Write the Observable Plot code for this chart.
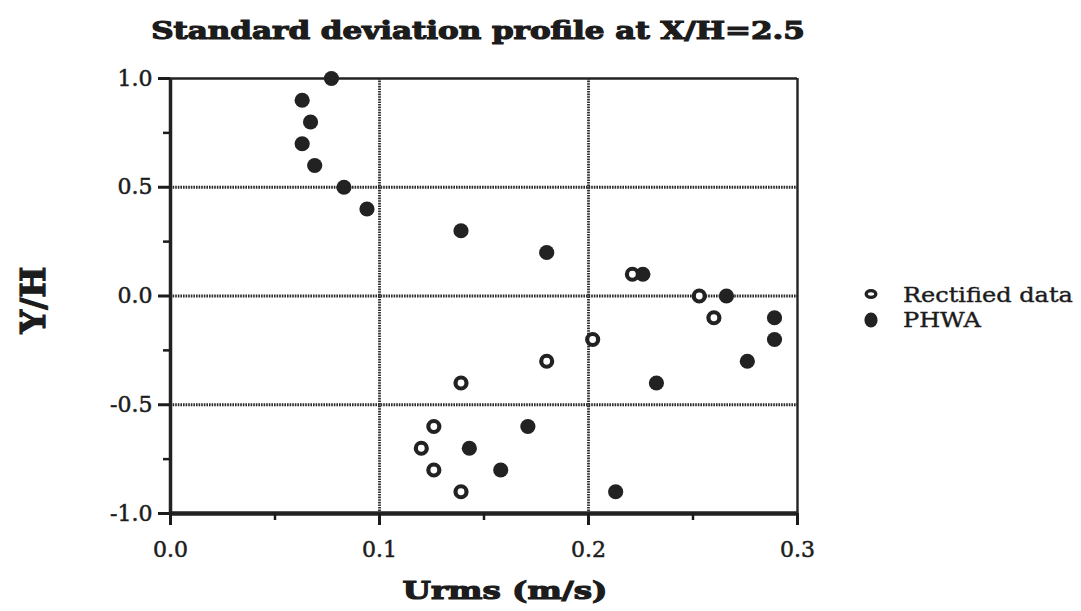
<!DOCTYPE html>
<html>
<head>
<meta charset="utf-8">
<script src="https://cdn.jsdelivr.net/npm/d3@7"></script>
<script src="https://cdn.jsdelivr.net/npm/@observablehq/plot@0.6"></script>
<style>
  body { margin: 0; background: #fff; }
  #wrap { position: relative; width: 1081px; height: 611px; font-family: "DejaVu Serif", serif; color: #1c1c1c; overflow: hidden; }
  #wrap > svg.chart { position: absolute; left: 0; top: 0; }
  #wrap svg [aria-label$="tick label"] text { stroke: #1c1c1c; stroke-width: 0.5px; }
  .bold { position: absolute; white-space: nowrap; font-weight: bold; line-height: 1; -webkit-text-stroke: 1.2px #1c1c1c; }
  .title { top: 19px; left: 478px; font-size: 24px; transform: translateX(-50%) scaleX(1.29); }
  .xlabel { top: 578px; left: 505px; font-size: 25px; transform: translateX(-50%) scaleX(1.3); }
  .ylabel { top: 300px; left: 33px; font-size: 33px; transform: translate(-50%, -50%) rotate(-90deg); }
  .legend-text { position: absolute; left: 903px; white-space: nowrap; font-size: 20px; line-height: 1; transform: scaleX(1.2); transform-origin: left center; -webkit-text-stroke: 0.4px #1c1c1c; }
  #wrap > svg#legend-marks { position: absolute; left: 858px; top: 280px; }
</style>
</head>
<body>
<div id="wrap">
  <div class="bold title">Standard deviation profile at X/H=2.5</div>
  <div class="bold xlabel">Urms (m/s)</div>
  <div class="bold ylabel">Y/H</div>
</div>
<script>
// Vertical position of each measurement, Y/H
const rectifiedYH   = [0.1, 0.0, -0.1, -0.2, -0.3, -0.4, -0.6, -0.7, -0.8, -0.9];
// RMS velocity from the rectified data, m/s
const rectifiedUrms = [0.221, 0.253, 0.260, 0.202, 0.180, 0.139, 0.126, 0.120, 0.126, 0.139];

const phwaYH   = [1.0, 0.9, 0.8, 0.7, 0.6, 0.5, 0.4, 0.3, 0.2, 0.1, 0.0, -0.1, -0.2, -0.3, -0.4, -0.6, -0.7, -0.8, -0.9];
// RMS velocity from the pulsed hot-wire anemometer, m/s
const phwaUrms = [0.077, 0.063, 0.067, 0.063, 0.069, 0.083, 0.094, 0.139, 0.180, 0.226, 0.266, 0.289, 0.289, 0.276, 0.2325, 0.171, 0.143, 0.158, 0.213];

const seriesNames = ["Rectified data", "PHWA"];

const xTicks = [0, 0.1, 0.2, 0.3];
const xMinor = [0.05, 0.15, 0.25];
const yTicks = [-1, -0.5, 0, 0.5, 1];
const yMinor = [-0.75, -0.25, 0.25, 0.75];

const rectified = rectifiedYH.map((y, i) => ({y, x: rectifiedUrms[i]}));
const phwa = phwaYH.map((y, i) => ({y, x: phwaUrms[i]}));

const ink = "#222";
const gridStyle = {stroke: "#2a2a2a", strokeOpacity: 1, strokeWidth: 2.8, strokeDasharray: "1.6 1"};

const chart = Plot.plot({
  width: 1081,
  height: 611,
  marginLeft: 170,
  marginRight: 284,
  marginTop: 78,
  marginBottom: 98,
  x: {domain: [0, 0.3]},
  y: {domain: [-1, 1]},
  style: {fontFamily: "DejaVu Serif", fontSize: "22px", color: "#1c1c1c", background: "transparent"},
  marks: [
    Plot.gridX([0.1, 0.2], gridStyle),
    Plot.gridY([-0.5, 0, 0.5], gridStyle),
    Plot.ruleY([1], {stroke: ink, strokeWidth: 2.4}),
    Plot.ruleX([0.3], {stroke: ink, strokeWidth: 2.4}),
    Plot.ruleX([0], {stroke: ink, strokeWidth: 3.5}),
    Plot.ruleY([-1], {stroke: ink, strokeWidth: 4.5}),
    Plot.axisX(xTicks, {tickSize: 12, tickPadding: 16, strokeWidth: 3, tickFormat: d => d.toFixed(1), label: null}),
    Plot.axisX(xMinor, {tickSize: 7, strokeWidth: 2.5, tickFormat: () => "", label: null}),
    Plot.axisY(yTicks, {tickSize: 12, tickPadding: 6, strokeWidth: 3, tickFormat: d => d.toFixed(1), label: null}),
    Plot.axisY(yMinor, {tickSize: 7, strokeWidth: 2.5, tickFormat: () => "", label: null}),
    Plot.dot(phwa, {x: "x", y: "y", r: 7.6, fill: ink, stroke: "none"}),
    Plot.dot(rectified, {x: "x", y: "y", r: 5.5, fill: "white", stroke: ink, strokeWidth: 4.2})
  ]
});
chart.classList.add("chart");
document.getElementById("wrap").prepend(chart);

// Legend: markers in a small svg, labels as text rows
const wrap = d3.select("#wrap");
const marks = wrap.append("svg").attr("id", "legend-marks").attr("width", 26).attr("height", 52);
seriesNames.forEach((name, i) => {
  const cy = i === 0 ? 14 : 40;
  if (i === 0) {
    marks.append("ellipse").attr("cx", 13).attr("cy", cy).attr("rx", 4.8).attr("ry", 3.4)
      .attr("fill", "white").attr("stroke", ink).attr("stroke-width", 3.4);
  } else {
    marks.append("ellipse").attr("cx", 13).attr("cy", cy).attr("rx", 6.6).attr("ry", 7.4).attr("fill", ink);
  }
  const baseline = i === 0 ? 302 : 327;
  wrap.append("div").attr("class", "legend-text")
    .style("top", (baseline - 17) + "px")
    .text(name);
});
</script>
</body>
</html>
